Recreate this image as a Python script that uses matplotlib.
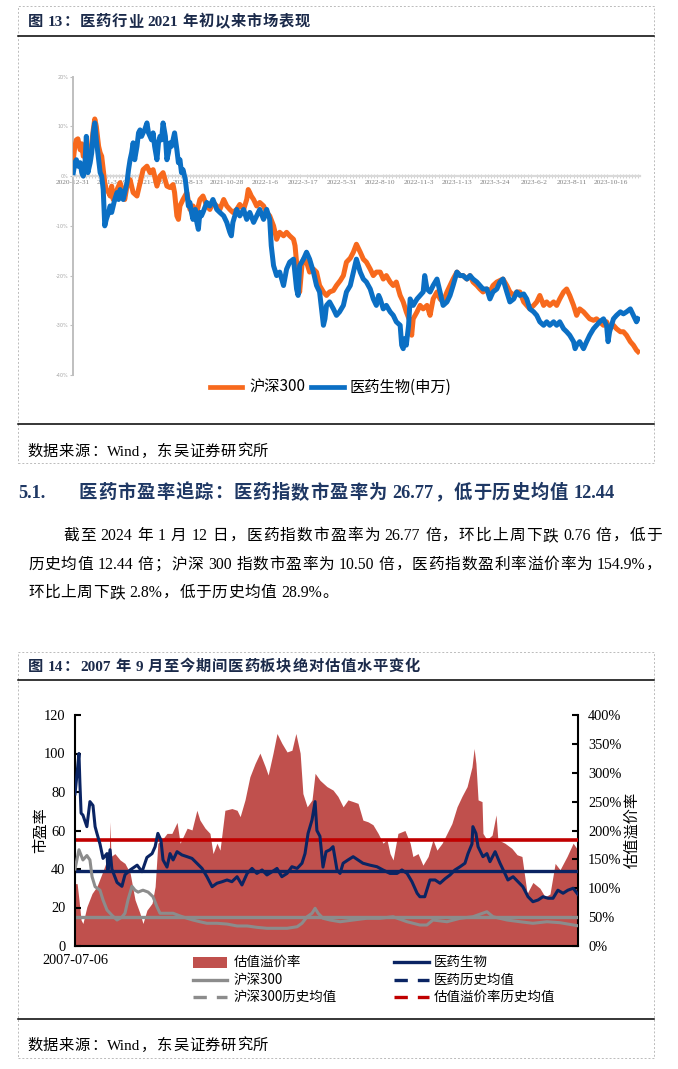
import matplotlib
matplotlib.use('Agg')
import matplotlib.pyplot as plt
from matplotlib.lines import Line2D
from matplotlib.patches import Rectangle
from matplotlib.ticker import FuncFormatter, MultipleLocator

W, H = 678, 1069
CJK = 'Noto Sans CJK SC'
MIX = ['Liberation Serif', CJK]

# ---------------- Chart 1 data (trading-day index since 2020-12-31, cumulative return %) ----------------
c1_tick_labels = ['2020-12-31', '2021-3-19', '2021-6-3', '2021-8-13', '2021-10-28', '2022-1-6',
                  '2022-3-17', '2022-5-31', '2022-8-10', '2022-11-3', '2023-1-13', '2023-3-24',
                  '2023-6-2', '2023-8-11', '2023-10-16']
c1_series_names = ['沪深300', '医药生物(申万)']

c1_hs300_day = [0, 2, 4, 6, 9, 11, 13, 17, 22, 26, 28, 30, 33, 35, 37, 39, 41, 43, 46, 48, 50, 52, 57, 61, 65,
                67, 70, 74, 78, 83, 87, 91, 96, 100, 104, 109, 113, 117, 122, 126, 130, 132, 135, 137, 139, 143,
                148, 152, 156, 161, 165, 169, 174, 178, 182, 187, 191, 196, 200, 204, 208, 213, 217, 222, 226,
                228, 230, 232, 235, 239, 243, 248, 252, 256, 261, 265, 269, 274, 278, 282, 287, 289, 291, 293,
                295, 298, 300, 304, 308, 313, 317, 321, 326, 330, 334, 339, 343, 348, 352, 356, 361, 365, 369,
                374, 378, 382, 387, 391, 395, 400, 404, 408, 413, 417, 421, 426, 430, 434, 439, 441, 443, 448,
                452, 456, 461, 465, 469, 474, 478, 482, 487, 491, 495, 500, 504, 508, 513, 517, 521, 526, 530,
                534, 539, 543, 547, 552, 556, 560, 565, 569, 574, 578, 582, 587, 591, 595, 600, 604, 608, 613,
                617, 621, 626, 630, 634, 639, 643, 647, 652, 656, 660, 665, 669, 673, 678, 682, 686, 691, 695,
                699, 704, 708, 713, 717, 721, 726, 730, 734, 736]
c1_hs300_ret = [3.3, 6, 7.3, 7.5, 5.3, 6.5, 4, 5.3, 4, 9.3, 11.5, 10, 6, 4.7, 4, 1.3, -1.3, -2.7, -3.3, -4, -2,
                -4.7, -2.7, -1.3, -3.3, -4.7, -2, -0.7, -3.3, -4, -1.3, 1.3, 2, 0.7, 1.3, -2, 0, 0.7, -2, -2.3,
                -1.7, -3.3, -8, -8.7, -6, -4.7, -3.3, -6.7, -6, -7.3, -4.7, -4, -6, -6.7, -5.3, -6, -6.7, -4.7,
                -6, -6.7, -7.3, -6.7, -5.7, -6.7, -4.7, -2.7, -3.3, -4, -4.7, -6, -5.3, -6, -7.3, -8, -10,
                -12.7, -11.3, -12, -11.3, -12, -12.7, -14, -17.3, -20.7, -23.3, -18, -16.7, -17.3, -19.3, -18.7,
                -19.3, -22, -23.3, -24, -23.3, -23, -22, -21, -20, -17.3, -16.5, -15.3, -13.7, -15.3, -16.7,
                -17.3, -18.7, -20, -19.3, -19.3, -20.7, -20, -21.3, -22, -21.3, -24, -25.3, -27.3, -29.3, -32,
                -28.7, -27.3, -26, -26.7, -26, -28, -24.7, -23.3, -24.7, -25.3, -23.3, -22, -20.7, -19.3, -20,
                -20, -20.7, -20, -21.3, -22, -22.7, -23.3, -22.7, -23.3, -22, -21.3, -21, -20.7, -22, -23.3,
                -24, -23.3, -23.3, -25.3, -26, -26.7, -26, -25.3, -24, -26, -25.3, -26, -25.3, -26, -24.7,
                -23.3, -22.7, -24, -26, -28, -26.7, -27.3, -28, -28.7, -29, -28.7, -29.3, -30, -29.3, -30.7,
                -30, -30.7, -31.3, -31.3, -32, -33.3, -34, -35, -35.3]

c1_med_day = [0, 2, 4, 6, 9, 11, 13, 15, 17, 19, 22, 24, 26, 28, 30, 33, 35, 37, 39, 41, 43, 46, 48, 50, 52, 54,
              57, 59, 61, 63, 65, 67, 70, 72, 74, 76, 78, 80, 83, 85, 87, 89, 91, 93, 96, 98, 100, 102, 104,
              106, 109, 111, 113, 115, 117, 120, 122, 124, 126, 128, 130, 132, 135, 137, 139, 141, 143, 146,
              148, 150, 152, 154, 156, 159, 161, 163, 165, 167, 169, 174, 178, 182, 187, 191, 196, 200, 204,
              206, 208, 213, 217, 222, 226, 230, 235, 239, 243, 248, 252, 256, 258, 261, 265, 269, 274, 278,
              282, 287, 291, 293, 295, 300, 304, 308, 313, 317, 321, 326, 328, 330, 334, 339, 343, 347, 352,
              356, 361, 365, 369, 374, 378, 382, 387, 391, 395, 398, 400, 404, 408, 413, 417, 421, 426, 428,
              430, 432, 434, 437, 439, 443, 448, 452, 456, 458, 461, 465, 469, 474, 478, 482, 487, 491, 495,
              500, 504, 508, 513, 517, 521, 526, 530, 534, 539, 543, 547, 552, 556, 560, 565, 569, 574, 578,
              582, 587, 591, 595, 600, 604, 608, 613, 617, 621, 626, 630, 634, 639, 643, 647, 652, 654, 656,
              660, 665, 669, 673, 678, 682, 686, 691, 695, 697, 699, 704, 708, 713, 717, 721, 726, 730, 734,
              736]
c1_med_ret = [0.7, 2.7, 3.3, 2, 2.7, 0.7, 0, 2, 8, 0.7, 2.7, 4.7, 8.7, 10.7, 7.3, 3.3, 0.7, 0, -2.7, -10, -8.7,
              -7.3, -6, -7.3, -6, -4.7, -3.3, -4.7, -2.7, -3.3, -4.7, -3.3, -1.3, 1.3, 3.3, 4.7, 6.7, 3.3, 6,
              8.7, 9.3, 8, 8.7, 9.3, 10.7, 8.7, 8, 7.3, 8.7, 6, 3.3, 6.7, 8, 7.3, 10.7, 8, 3.3, 4.7, 6.7, 6,
              7.3, 8.7, 5.3, 2.7, 3.3, 0.7, 1.3, -0.7, -3.3, -6, -5.3, -7.3, -8.7, -6.7, -9.3, -10.7, -7.3, -8,
              -7.3, -5.3, -6, -4.7, -6.7, -7.3, -8, -9.3, -11.3, -12, -9.3, -6.7, -8, -6.7, -8.7, -7.3, -9.3,
              -8, -6.7, -8.7, -6.7, -8.7, -14, -18, -20, -19.3, -22, -18.7, -17.3, -16.7, -22.7, -24, -18,
              -16.7, -15.3, -16.7, -19.3, -22, -23.3, -30, -28.7, -26, -25.3, -26.7, -28, -27.3, -26, -23.3,
              -22, -19.3, -16.7, -19.3, -20.7, -21.3, -22.7, -24.7, -26, -24, -24.7, -26.7, -26, -27.3, -28,
              -29.3, -30, -34, -34.7, -32.7, -34, -30, -24.7, -26, -24.7, -24, -23.3, -20, -22.7, -23.3, -22,
              -20.7, -23.3, -26, -25.3, -24, -22, -19.3, -20, -20, -20.7, -20, -20.7, -21.3, -22, -22.7,
              -22.7, -24.7, -23.3, -22.7, -21.3, -20.7, -23.3, -25.3, -24.7, -23.3, -24, -23.7, -24.7, -26.7,
              -27.3, -28, -29.3, -30, -29.3, -30, -29.3, -30, -29.3, -30.7, -31.3, -32, -33.3, -34.7, -34,
              -33.3, -34.7, -33.3, -32, -30.7, -30, -29.3, -28.7, -30, -33.3, -31.3, -28.7, -28, -27.3, -27.7,
              -27.3, -26.7, -28, -29.3, -28.7]

# ---------------- Chart 2 data (decimal year) ----------------
c2_prem_year = [2007.51, 2007.58, 2007.64, 2007.71, 2007.77, 2007.90, 2008.07, 2008.23, 2008.40, 2008.56,
                2008.63, 2008.66, 2008.69, 2008.82, 2008.99, 2009.15, 2009.32, 2009.48, 2009.64, 2009.74,
                2009.87, 2010.04, 2010.14, 2010.23, 2010.37, 2010.53, 2010.69, 2010.86, 2010.96, 2011.19,
                2011.35, 2011.51, 2011.61, 2011.78, 2011.94, 2012.04, 2012.17, 2012.27, 2012.43, 2012.66,
                2012.83, 2012.93, 2013.09, 2013.25, 2013.42, 2013.58, 2013.75, 2013.85, 2014.01, 2014.14,
                2014.30, 2014.47, 2014.63, 2014.76, 2014.90, 2014.99, 2015.13, 2015.29, 2015.39, 2015.55,
                2015.78, 2015.98, 2016.14, 2016.31, 2016.47, 2016.64, 2016.80, 2016.96, 2017.13, 2017.29,
                2017.46, 2017.62, 2017.75, 2017.85, 2017.95, 2018.11, 2018.34, 2018.51, 2018.60, 2018.77,
                2018.93, 2019.10, 2019.26, 2019.39, 2019.56, 2019.72, 2019.88, 2020.05, 2020.21, 2020.38,
                2020.54, 2020.61, 2020.67, 2020.74, 2020.87, 2020.90, 2021.03, 2021.20, 2021.33, 2021.39,
                2021.62, 2021.85, 2022.02, 2022.18, 2022.35, 2022.54, 2022.77, 2022.94, 2023.10, 2023.27,
                2023.43, 2023.66, 2023.86, 2024.02]
c2_prem_val = [108, 108, 80, 45, 39, 68, 91, 103, 126, 149, 150, 215, 155, 160, 149, 143, 126, 80, 57, 39, 62,
               74, 103, 178, 184, 195, 195, 214, 178, 204, 201, 235, 218, 204, 195, 160, 178, 166, 235, 238,
               235, 224, 253, 293, 316, 334, 311, 296, 334, 368, 351, 336, 339, 368, 334, 264, 241, 253, 299,
               287, 276, 270, 259, 241, 253, 250, 247, 218, 215, 210, 195, 178, 184, 160, 149, 195, 200, 178,
               155, 160, 140, 155, 184, 166, 178, 195, 212, 241, 259, 276, 310, 342, 316, 253, 250, 195, 184,
               192, 227, 184, 178, 169, 158, 155, 91, 110, 100, 85, 90, 143, 132, 155, 178, 166]

c2_med_year = [2007.51, 2007.58, 2007.64, 2007.67, 2007.71, 2007.77, 2007.90, 2008.00, 2008.10, 2008.17,
               2008.23, 2008.33, 2008.43, 2008.56, 2008.59, 2008.66, 2008.72, 2008.89, 2009.05, 2009.15,
               2009.32, 2009.55, 2009.71, 2009.87, 2010.04, 2010.14, 2010.23, 2010.33, 2010.40, 2010.53,
               2010.63, 2010.73, 2010.86, 2011.02, 2011.19, 2011.35, 2011.51, 2011.68, 2011.84, 2012.01,
               2012.17, 2012.34, 2012.50, 2012.66, 2012.83, 2012.99, 2013.16, 2013.32, 2013.48, 2013.65,
               2013.81, 2013.98, 2014.14, 2014.30, 2014.47, 2014.63, 2014.80, 2014.96, 2015.06, 2015.16,
               2015.29, 2015.39, 2015.45, 2015.55, 2015.65, 2015.75, 2015.88, 2015.98, 2016.11, 2016.21,
               2016.31, 2016.47, 2016.64, 2016.80, 2016.96, 2017.19, 2017.42, 2017.62, 2017.85, 2018.08,
               2018.24, 2018.41, 2018.57, 2018.74, 2018.83, 2018.99, 2019.16, 2019.33, 2019.49, 2019.66,
               2019.82, 2019.98, 2020.15, 2020.31, 2020.41, 2020.54, 2020.57, 2020.67, 2020.74, 2020.90,
               2021.03, 2021.13, 2021.30, 2021.46, 2021.62, 2021.72, 2021.89, 2022.05, 2022.21, 2022.38,
               2022.54, 2022.71, 2022.87, 2023.04, 2023.20, 2023.36, 2023.53, 2023.69, 2023.86, 2024.02]
c2_med_pe = [79, 90, 100, 85, 69, 68, 62, 75, 73, 62, 58.5, 53, 45.5, 48, 39.5, 50, 40, 33, 31, 37, 39.5, 42,
             38.6, 46, 48, 51.6, 58.5, 55, 44.7, 41, 48, 44.7, 49, 47.3, 46.4, 45.5, 43, 40.3, 36, 30.8, 32.6,
             33.4, 34.3, 33.4, 36, 31.7, 37.7, 40.3, 37.7, 39.5, 36.9, 38.6, 40.3, 36, 37.7, 41.2, 40.3, 43,
             48, 58.5, 65.5, 75, 60, 57, 41, 49, 50, 51.6, 39.5, 37.7, 43, 44.7, 46.4, 44.7, 43, 42, 41.2,
             39.5, 37.7, 37.7, 39.5, 37.7, 33.4, 27.4, 25.6, 25.6, 34.3, 34.3, 32.6, 35, 36.9, 39.5, 41.2, 43,
             48, 53, 62, 58.5, 51.6, 46.4, 48, 43.8, 49, 43, 37.7, 34.3, 36, 33.4, 30.8, 25.6, 23, 23.9, 25.6,
             24.8, 24.8, 29, 27.4, 29, 30, 26.77]

c2_hs_year = [2007.51, 2007.64, 2007.77, 2007.90, 2008.00, 2008.07, 2008.17, 2008.33, 2008.43, 2008.56,
              2008.72, 2008.89, 2009.05, 2009.15, 2009.25, 2009.38, 2009.48, 2009.58, 2009.74, 2009.91,
              2010.07, 2010.20, 2010.30, 2010.53, 2010.73, 2010.96, 2011.19, 2011.38, 2011.61, 2011.84,
              2012.17, 2012.50, 2012.83, 2013.16, 2013.48, 2013.81, 2014.14, 2014.47, 2014.80, 2014.96,
              2015.13, 2015.29, 2015.39, 2015.49, 2015.65, 2015.88, 2016.21, 2016.64, 2017.09, 2017.52,
              2017.95, 2018.41, 2018.83, 2019.06, 2019.26, 2019.72, 2020.15, 2020.57, 2021.03, 2021.23,
              2021.69, 2022.12, 2022.54, 2023.00, 2023.43, 2024.02]
c2_hs_pe = [40, 50, 44.7, 47, 44.7, 36, 30.8, 29, 23.9, 18.7, 16, 13.5, 15, 17, 24, 31, 29, 28, 29, 28, 25.6,
            20.4, 17, 17, 17, 15.6, 14.4, 13.5, 12.6, 11.8, 11.8, 11.4, 10.4, 10.4, 9.7, 9.2, 9.2, 9.2, 10,
            11.8, 15.2, 17, 19.6, 17, 14.4, 13.5, 12.6, 13.5, 14.4, 14.4, 15.2, 12.6, 10.9, 10.9, 13.5, 12.6,
            14.4, 15.2, 17.8, 15.2, 13.5, 12.6, 11.8, 12.6, 12.1, 10.5]

c2_med_mean = 39.21
c2_hs_mean = 15.0
c2_prem_mean = 183.8
c2_first_date = '2007-07-06'
c2_legend = ['估值溢价率', '医药生物', '沪深300', '医药历史均值', '沪深300历史均值', '估值溢价率历史均值']

# ---------------- texts ----------------
title1 = '图 13：医药行业 2021 年初以来市场表现'
title2 = '图 14：2007 年 9 月至今期间医药板块绝对估值水平变化'
source = '数据来源：Wind，东吴证券研究所'
heading_num = '5.1.'
heading = '医药市盈率追踪：医药指数市盈率为 26.77，低于历史均值 12.44'
para = ['截至 2024 年 1 月 12 日，医药指数市盈率为 26.77 倍，环比上周下跌 0.76 倍，低于',
        '历史均值 12.44 倍；沪深 300 指数市盈率为 10.50 倍，医药指数盈利率溢价率为 154.9%，',
        '环比上周下跌 2.8%，低于历史均值 28.9%。']

ORANGE = '#F7691D'
BLUE = '#0B6FC4'
AREA = '#C0504D'
NAVY = '#0A2463'
GRAY = '#8C8C8C'
RED = '#C00000'
TITLE_C = '#1B2A4A'
HEAD_C = '#1F3864'

fig = plt.figure(figsize=(W / 100, H / 100), dpi=100)
fig.patch.set_facecolor('white')
renderer = fig.canvas.get_renderer()


def fx(x):
    return x / W


def fy(y):
    return 1 - y / H


def fline(x0, x1, y0, y1, **kw):
    fig.add_artist(Line2D([fx(x0), fx(x1)], [fy(y0), fy(y1)], transform=fig.transFigure, **kw))


def fbox(x0, y0, x1, y1, **kw):
    fig.add_artist(Rectangle((fx(x0), fy(y1)), fx(x1) - fx(x0), fy(y0) - fy(y1),
                             transform=fig.transFigure, **kw))


def tokenize(s):
    tokens, run, run_sp, pend = [], '', False, False
    for ch in s:
        if ch == ' ':
            if run:
                tokens.append((run, run_sp))
                run = ''
            pend = True
        elif ord(ch) < 128:
            if not run:
                run_sp, pend = pend, False
            run += ch
        else:
            if run:
                tokens.append((run, run_sp))
                run = ''
            tokens.append((ch, pend))
            pend = False
    if run:
        tokens.append((run, run_sp))
    return tokens


def jtext(s, x0, x1, y, size, color='black', weight='normal', family=MIX):
    toks = tokenize(s)
    spx = size * 100 / 72
    base = fy(y + 0.38 * spx)
    arts = [fig.text(0, base, t, fontsize=size, family=family, color=color, weight=weight,
                     ha='left', va='baseline') for t, _ in toks]
    widths = [a.get_window_extent(renderer).width for a in arts]
    sp_w = 0.25 * spx
    nsp = sum(1 for _, sp in toks if sp)
    gap = (x1 - x0 - sum(widths) - nsp * sp_w) / max(len(toks) - 1, 1)
    x = x0
    for (t, sp), a, w in zip(toks, arts, widths):
        if sp:
            x += sp_w
        a.set_x(fx(x))
        x += w + gap


# ---------------- frames ----------------
fbox(18, 6, 654, 463, fill=False, ec='#BBBBBB', lw=0.7, ls=(0, (2, 2)))
fbox(18, 652, 654, 1058, fill=False, ec='#BBBBBB', lw=0.7, ls=(0, (2, 2)))
fline(18, 654, 36, 36, color='black', lw=1.1)
fline(18, 654, 424, 424, color='black', lw=1.1)
fline(18, 654, 680, 680, color='black', lw=1.1)
fline(18, 654, 1019, 1019, color='black', lw=1.1)

jtext(title1, 28, 310, 20, 11.0, color=TITLE_C, weight='bold')
jtext(source, 27, 268, 450, 11.0)
jtext(heading_num, 18, 46, 491, 13.2, color=HEAD_C, weight='bold')
jtext(heading, 79, 615, 491, 13.2, color=HEAD_C, weight='bold')
jtext(para[0], 63, 662, 534, 11.3)
jtext(para[1], 28, 662, 563, 11.3)
jtext(para[2], 28, 338, 591, 11.3)
jtext(title2, 28, 420, 665, 11.0, color=TITLE_C, weight='bold')
jtext(source, 27, 268, 1044, 11.0)

# ---------------- Chart 1 ----------------
ax1 = fig.add_axes([fx(73.3), fy(375), fx(640) - fx(73.3), fy(76.7) - fy(375)])
ax1.plot(c1_hs300_day, c1_hs300_ret, color=ORANGE, lw=3.6, zorder=3, solid_joinstyle='round')
ax1.plot(c1_med_day, c1_med_ret, color=BLUE, lw=3.6, zorder=4, solid_joinstyle='round')
ax1.set_xlim(0, 738.6)
ax1.set_ylim(-40, 20)
ax1.set_facecolor('none')
for s in ('top', 'right'):
    ax1.spines[s].set_visible(False)
ax1.spines['left'].set_color('#BFBFBF')
ax1.spines['left'].set_linewidth(1.4)
ax1.spines['bottom'].set_position(('data', 0))
ax1.spines['bottom'].set_color('#D9D9D9')
ax1.spines['bottom'].set_linewidth(1.6)
ax1.set_xticks(range(0, 50 * len(c1_tick_labels), 50))
ax1.set_xticklabels(c1_tick_labels, family='Liberation Serif')
ax1.tick_params(axis='x', which='major', length=0, pad=3, labelsize=5.3, labelcolor='#7F7F7F')
ax1.xaxis.set_minor_locator(MultipleLocator(4))
ax1.tick_params(axis='x', which='minor', length=2.5, width=0.7, color='#D0D0D0', direction='inout')
ax1.set_yticks(range(-40, 21, 10))
ax1.yaxis.set_major_formatter(FuncFormatter(lambda v, p: f'{v:.0f}%'))
ax1.tick_params(axis='y', length=2, width=0.8, color='#BFBFBF', labelsize=3.5, labelcolor='#A6A6A6', pad=1.5)

# legend chart 1
fline(210, 242, 387, 387, color=ORANGE, lw=3.4)
fig.text(fx(249), fy(387), c1_series_names[0], fontsize=11, family=CJK, va='center', ha='left')
fline(311, 344, 387, 387, color=BLUE, lw=3.4)
fig.text(fx(350), fy(387), c1_series_names[1], fontsize=11, family=CJK, va='center', ha='left')

# ---------------- Chart 2 ----------------
axp = fig.add_axes([fx(75), fy(946), fx(578.3) - fx(75), fy(715) - fy(946)])
axp.fill_between(c2_prem_year, c2_prem_val, 0, color=AREA, lw=0, zorder=1)
axp.axhline(c2_prem_mean, color=RED, lw=2.6, zorder=3)
axp.set_ylim(0, 400)
axp.set_xlim(2007.51, 2024.03)
axe = axp.twinx()
axe.set_ylim(0, 120)
axe.plot(c2_med_year, c2_med_pe, color=NAVY, lw=2.2, zorder=3)
axe.plot(c2_hs_year, c2_hs_pe, color=GRAY, lw=2.2, zorder=3)
axe.axhline(c2_med_mean, color=NAVY, lw=2.4, zorder=2)
axe.axhline(c2_hs_mean, color=GRAY, lw=2.4, zorder=2)

axp.yaxis.tick_right()
axe.yaxis.tick_left()
for s in ('top', 'left'):
    axp.spines[s].set_visible(False)
for s in ('top', 'right', 'bottom'):
    axe.spines[s].set_visible(False)
for sp in (axp.spines['right'], axp.spines['bottom'], axe.spines['left']):
    sp.set_color('black')
    sp.set_linewidth(1.5)
axp.set_yticks(range(0, 401, 50))
axp.yaxis.set_major_formatter(FuncFormatter(lambda v, p: f'{v:.0f}%'))
axe.set_yticks(range(0, 121, 20))
axp.tick_params(axis='y', direction='in', length=4, width=1.5, labelsize=10.4, pad=7)
axe.tick_params(axis='y', direction='in', length=4, width=1.5, labelsize=10.4, pad=7)
axp.set_xticks([c2_prem_year[0]])
axp.set_xticklabels([c2_first_date])
axp.tick_params(axis='x', length=0, labelsize=10.3, pad=6)
for lab in axp.get_yticklabels() + axe.get_yticklabels() + axp.get_xticklabels():
    lab.set_family('Liberation Serif')

fig.text(fx(41), fy(830), '市盈率', rotation=90, fontsize=11, family=CJK, va='center', ha='center')
fig.text(fx(632), fy(830), '估值溢价率', rotation=90, fontsize=11, family=CJK, va='center', ha='center')

# legend chart 2
LS = 9.7
fbox(193, 957, 227, 968, color=AREA, lw=0)
fig.text(fx(234), fy(962), c2_legend[0], fontsize=LS, family=CJK, va='center')
fline(394, 429, 962, 962, color=NAVY, lw=2.4)
fig.text(fx(434), fy(962), c2_legend[1], fontsize=LS, family=CJK, va='center')
fline(193, 227, 980, 980, color=GRAY, lw=2.4)
fig.text(fx(234), fy(980), c2_legend[2], fontsize=LS, family=CJK, va='center')
fline(394, 429, 980, 980, color=NAVY, lw=2.4, dashes=(4.0, 3.0))
fig.text(fx(434), fy(980), c2_legend[3], fontsize=LS, family=CJK, va='center')
fline(193, 227, 997, 997, color=GRAY, lw=2.4, dashes=(4.0, 3.0))
fig.text(fx(234), fy(997), c2_legend[4], fontsize=LS, family=CJK, va='center')
fline(394, 429, 997, 997, color=RED, lw=2.4, dashes=(4.0, 3.0))
fig.text(fx(434), fy(997), c2_legend[5], fontsize=LS, family=CJK, va='center')

fig.savefig('out.png', dpi=100, facecolor='white')
